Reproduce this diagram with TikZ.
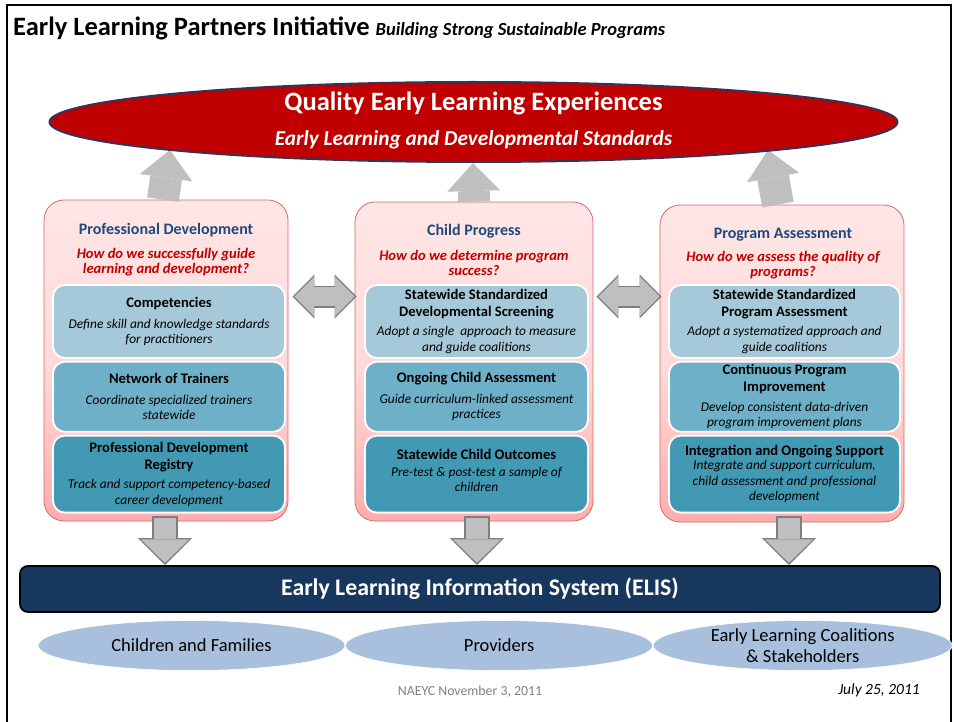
\documentclass[tikz,border=0pt]{standalone}
\usepackage{fontspec}
\setmainfont{Carlito}
\usepackage{xcolor}
\usetikzlibrary{positioning,shapes.geometric,arrows.meta}

\definecolor{qered}{HTML}{C00000}
\definecolor{qeline}{HTML}{3B3157}
\definecolor{hdblue}{HTML}{1F497D}
\definecolor{pinkline}{HTML}{D46A6A}
\definecolor{pinktop}{HTML}{FFE6E6}
\definecolor{pinkbot}{HTML}{FFADAD}
\definecolor{lvlone}{HTML}{A5C9D9}
\definecolor{lvltwo}{HTML}{6DB0C7}
\definecolor{lvlthree}{HTML}{4299B3}
\definecolor{elisblue}{HTML}{17375E}
\definecolor{grpblue}{HTML}{A8C0DE}
\definecolor{arrowfill}{HTML}{BFBFBF}
\definecolor{arrowline}{HTML}{7F7F7F}

\newcommand{\itemhead}[1]{{\normalfont\fontsize{14.6}{17}\selectfont\bfseries #1}}

\begin{document}
\begin{tikzpicture}[x=1pt,y=-1pt,
  colbox/.style={draw=pinkline, line width=0.8pt, rounded corners=20pt, top color=pinktop, bottom color=pinkbot, middle color=pinktop!80!pinkbot},
  colhead/.style={font=\fontsize{16}{19}\selectfont\bfseries, text=hdblue},
  colquest/.style={font=\fontsize{14.6}{15.5}\selectfont\bfseries\itshape, text=qered, align=center},
  inbox/.style={draw=white, line width=1.8pt, rounded corners=12pt, fill=#1, align=center, inner sep=0pt, font=\fontsize{13.4}{15.5}\selectfont\itshape},
  grp/.style={ellipse, fill=grpblue, draw=white, line width=0.6pt, minimum width=307pt, minimum height=50pt, inner sep=0pt, font=\fontsize{18.5}{21}\selectfont},
  uparrow/.style={draw=arrowfill, line width=32pt, -{Triangle[length=28pt,width=53pt,line width=0pt]}},
  downline/.style={draw=arrowline, line width=26pt, -{Triangle[length=27pt,width=54pt,line width=0pt]}},
  downfill/.style={draw=arrowfill, line width=22pt, shorten <=2pt, shorten >=2.2pt, -{Triangle[length=23.5pt,width=48pt,line width=0pt]}},
  dblline/.style={draw=arrowline, line width=22pt, {Triangle[length=22pt,width=44pt,line width=0pt]}-{Triangle[length=22pt,width=44pt,line width=0pt]}},
  dblfill/.style={draw=arrowfill, line width=18.5pt, shorten <=2pt, shorten >=2pt, {Triangle[length=19.5pt,width=39pt,line width=0pt]}-{Triangle[length=19.5pt,width=39pt,line width=0pt]}}]
  \useasboundingbox (0,0) rectangle (954,722);
  \draw[line width=1.6pt] (7,722) -- (7,5) -- (951,5) -- (951,722);

  %Title
  \node[anchor=west, inner sep=0pt] (title) at (13,28) {\fontsize{26.5}{30}\selectfont\bfseries Early Learning Partners Initiative \fontsize{18.5}{22}\selectfont\itshape Building Strong Sustainable Programs};

  %Columns
  \node[colbox, minimum width=244pt, minimum height=321pt] (pd) at (166,360.5) {};
  \node[colbox, minimum width=238pt, minimum height=319pt] (cp) at (474,361.5) {};
  \node[colbox, minimum width=244pt, minimum height=317pt] (pa) at (782,363.5) {};

  \node[colhead] (pdH) at (166,230) {Professional Development};
  \node[colquest] (pdQ) at (166,262) {How do we successfully guide\\learning and development?};
  \node[colhead] (cpH) at (474,231) {Child Progress};
  \node[colquest] (cpQ) at (474,263) {How do we determine program\\success?};
  \node[colhead] (paH) at (783,235) {Program Assessment};
  \node[colquest] (paQ) at (783,265) {How do we assess the quality of\\programs?};

  \node[inbox=lvlone, minimum width=232pt, minimum height=73pt] (pdA) at (169,321.5) {\itemhead{Competencies}\\[5pt]Define skill and knowledge standards\\for practitioners};
  \node[inbox=lvltwo, minimum width=232pt, minimum height=70pt, below=2pt of pdA] (pdB) {\itemhead{Network of Trainers}\\[5pt]Coordinate specialized trainers\\statewide};
  \node[inbox=lvlthree, minimum width=232pt, minimum height=77pt, below=2pt of pdB] (pdC) {\itemhead{Professional Development}\\[1.5pt]\itemhead{Registry}\\[4pt]Track and support competency-based\\career development};

  \node[inbox=lvlone, minimum width=223pt, minimum height=73pt] (cpA) at (476.5,321.5) {\itemhead{Statewide Standardized}\\[1.5pt]\itemhead{Developmental Screening}\\[4pt]Adopt a single\ \ approach to measure\\and guide coalitions};
  \node[inbox=lvltwo, minimum width=223pt, minimum height=70pt, below=2pt of cpA] (cpB) {\itemhead{Ongoing Child Assessment}\\[5pt]Guide curriculum-linked assessment\\practices};
  \node[inbox=lvlthree, minimum width=223pt, minimum height=77pt, below=2pt of cpB] (cpC) {\itemhead{Statewide Child Outcomes}\\[1pt]Pre-test \& post-test a sample of\\children\\[-8.5pt]};

  \node[inbox=lvlone, minimum width=231pt, minimum height=73pt] (paA) at (784.5,321.5) {\itemhead{Statewide Standardized}\\[1.5pt]\itemhead{Program Assessment}\\[4pt]Adopt a systematized approach and\\guide coalitions};
  \node[inbox=lvltwo, minimum width=231pt, minimum height=70pt, below=2pt of paA] (paB) {\itemhead{Continuous Program}\\[1.5pt]\itemhead{Improvement}\\[4pt]Develop consistent data-driven\\program improvement plans};
  \node[inbox=lvlthree, minimum width=231pt, minimum height=77pt, below=2pt of paB] (paC) {\itemhead{Integration and Ongoing Support}\\[-1pt]Integrate and support curriculum,\\child assessment and professional\\development};

  %Top
  \coordinate (tipL) at (170,150);
  \coordinate (tipM) at (473,163);
  \coordinate (tipR) at (768,150);
  \draw[uparrow] ([xshift=-3pt]pd.north) -- (tipL);
  \draw[uparrow] (cp.north) -- (tipM);
  \draw[uparrow] ([xshift=-4pt]pa.north) -- (tipR);

  \node[ellipse, fill=qered, draw=qeline, line width=2pt, minimum width=848pt, minimum height=80pt] (qe) at (473.5,122) {};
  \node[text=white, font=\fontsize{26.5}{30}\selectfont\bfseries] (qeT) at (473.5,103) {Quality Early Learning Experiences};
  \node[text=white, font=\fontsize{21.3}{25}\selectfont\bfseries\itshape] (qeS) at (473.5,140) {Early Learning and Developmental Standards};

  %Bottom
  \node[draw=black, line width=1.8pt, fill=elisblue, rounded corners=8pt, minimum width=920pt, minimum height=46pt, text=white, font=\fontsize{23.8}{27}\selectfont\bfseries] (elis) at (480,589) {Early Learning Information System (ELIS)};

  \node[grp] (kids) at (191.5,645.5) {Children and Families};
  \node[grp, right=0pt of kids] (prov) {Providers};
  \node[grp, minimum width=299pt, right=0pt of prov] (elc) {};
  \node[font=\fontsize{18.5}{21}\selectfont, align=center] (elcT) at (elc.center) {Early Learning Coalitions\\\& Stakeholders};

  \node[font=\fontsize{13.8}{16}\selectfont, text=arrowline] (naeyc) at (470,692) {NAEYC November 3, 2011};
  \node[font=\fontsize{15.5}{18}\selectfont\itshape] (date) at (879,690) {July 25, 2011};

  %Lines
  \draw[dblline] ([shift={(4,97)}]pd.north east) -- ([shift={(2,95)}]cp.north west);
  \draw[dblfill] ([shift={(4,97)}]pd.north east) -- ([shift={(2,95)}]cp.north west);
  \draw[dblline] ([shift={(3,95)}]cp.north east) -- ([shift={(2,92)}]pa.north west);
  \draw[dblfill] ([shift={(3,95)}]cp.north east) -- ([shift={(2,92)}]pa.north west);

  \draw[downline] ([shift={(-1,-5)}]pd.south) -- ([xshift=-1pt]pd.south |- elis.north);
  \draw[downfill] ([shift={(-1,-5)}]pd.south) -- ([xshift=-1pt]pd.south |- elis.north);
  \draw[downline] ([shift={(3,-5)}]cp.south) -- ([xshift=3pt]cp.south |- elis.north);
  \draw[downfill] ([shift={(3,-5)}]cp.south) -- ([xshift=3pt]cp.south |- elis.north);
  \draw[downline] ([shift={(7,-6)}]pa.south) -- ([xshift=7pt]pa.south |- elis.north);
  \draw[downfill] ([shift={(7,-6)}]pa.south) -- ([xshift=7pt]pa.south |- elis.north);
\end{tikzpicture}
\end{document}
